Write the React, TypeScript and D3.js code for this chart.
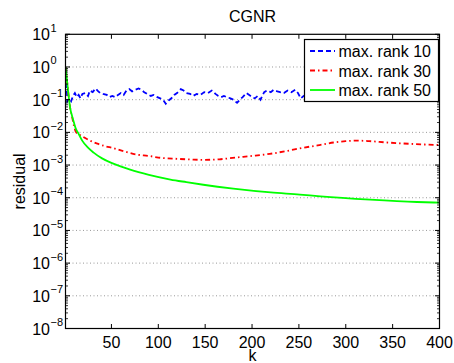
import React from "react";
import * as d3 from "d3";

const title = "CGNR";
const xLabel = "k";
const yLabel = "residual";
const xTicks = [50, 100, 150, 200, 250, 300, 350, 400];
const yDecades = [-8, -7, -6, -5, -4, -3, -2, -1, 0, 1];
const seriesNames = ["max. rank 10", "max. rank 30", "max. rank 50"];

const blueK = [1, 3, 5, 7, 9, 11, 13, 15, 17, 19, 22, 25, 27, 30, 33, 36, 38, 41, 45, 48, 51, 54, 57, 60, 63, 66, 69, 72, 75, 79, 82, 85, 88, 92, 95, 99, 102, 105, 108, 111, 114, 117, 120, 124, 127, 130, 134, 137, 141, 145, 149, 153, 157, 161, 164, 167, 170, 173, 177, 180, 184, 187, 190, 194, 197, 200, 203, 206, 209, 213, 216, 220, 223, 227, 230, 234, 238, 242, 246, 249, 252, 255, 260, 265, 270, 275, 280, 285, 290, 295, 300, 305, 310, 315, 320, 325, 330, 335, 340, 345, 350, 355, 360, 365, 370, 375, 380, 385, 390, 395, 400];
const blueV = [1, 0.09, 0.11, 0.09, 0.13, 0.16, 0.12, 0.14, 0.11, 0.15, 0.16, 0.13, 0.19, 0.17, 0.22, 0.18, 0.16, 0.15, 0.14, 0.12, 0.13, 0.12, 0.14, 0.16, 0.14, 0.19, 0.21, 0.18, 0.2, 0.22, 0.2, 0.17, 0.15, 0.13, 0.14, 0.12, 0.11, 0.1, 0.075, 0.095, 0.11, 0.14, 0.16, 0.21, 0.19, 0.16, 0.15, 0.13, 0.15, 0.14, 0.17, 0.16, 0.19, 0.15, 0.13, 0.12, 0.13, 0.12, 0.11, 0.1, 0.08, 0.1, 0.12, 0.16, 0.14, 0.12, 0.11, 0.13, 0.1, 0.17, 0.19, 0.17, 0.2, 0.18, 0.17, 0.16, 0.19, 0.17, 0.2, 0.16, 0.11, 0.13, 0.15, 0.18, 0.14, 0.16, 0.12, 0.15, 0.18, 0.14, 0.17, 0.13, 0.16, 0.19, 0.15, 0.13, 0.16, 0.18, 0.14, 0.12, 0.15, 0.17, 0.13, 0.16, 0.19, 0.15, 0.12, 0.14, 0.17, 0.15, 0.14];

const redK = [1, 2, 3, 4, 5, 6, 8, 10, 12, 16, 20, 27, 35, 43, 52, 64, 77, 90, 100, 120, 135, 148, 165, 183, 200, 219, 237, 255, 270, 287, 300, 312, 325, 344, 360, 380, 400];
const redV = [1, 0.55, 0.3, 0.16, 0.09, 0.055, 0.03, 0.016, 0.0105, 0.0085, 0.0072, 0.0056, 0.0045, 0.0038, 0.0033, 0.0026, 0.0021, 0.0019, 0.0017, 0.00155, 0.00148, 0.00144, 0.0015, 0.0017, 0.0019, 0.0022, 0.0027, 0.0034, 0.004, 0.0049, 0.0054, 0.0056, 0.0054, 0.0049, 0.0046, 0.0043, 0.0041];

const greenK = [1, 2, 3, 4, 5, 6, 8, 10, 12, 15, 19, 25, 31, 40, 52, 70, 90, 113, 130, 148, 180, 220, 251, 273, 326, 376, 400];
const greenV = [1, 0.55, 0.3, 0.16, 0.09, 0.055, 0.032, 0.02, 0.013, 0.009, 0.0055, 0.0034, 0.0024, 0.0016, 0.0011, 0.00072, 0.0005, 0.00036, 0.0003, 0.00025, 0.00019, 0.000145, 0.000125, 0.00011, 0.000087, 0.000074, 0.000071];

const W = 454, H = 363;
const L = 65.5, R = 439.5, T = 34.3, B = 328.5;
const FONT = "'Liberation Sans', Arial, sans-serif";

export default function App() {
  const x = d3.scaleLinear().domain([1, 400]).range([L, R]);
  const y = d3.scaleLog().domain([1e-8, 1e1]).range([B, T]);

  const mk = (ks: number[], vs: number[], curve: any) =>
    d3.line<number>().x((_, i) => x(ks[i])).y((v) => y(v)).curve(curve)(vs) || "";

  const bluePath = mk(blueK, blueV, d3.curveLinear);
  const redPath = mk(redK, redV, d3.curveMonotoneX);
  const greenPath = mk(greenK, greenV, d3.curveMonotoneX);

  const series = [
    { name: seriesNames[0], color: "#0000ff", dash: "5,3", path: bluePath },
    { name: seriesNames[1], color: "#ff0000", dash: "5,3,1.5,3", path: redPath },
    { name: seriesNames[2], color: "#00ff00", dash: "none", path: greenPath },
  ];

  const minor: number[] = [];
  for (let d = -8; d < 1; d++) for (let m = 2; m <= 9; m++) minor.push(m * Math.pow(10, d));

  const legX = 304.5, legY = 39.5, legW = 134, legH = 62;
  const rowY = [51, 70.5, 90];

  return (
    <svg width={W} height={H} style={{ position: "absolute", left: 0, top: 0, background: "#fff" }} fontFamily={FONT}>
      <rect x={0} y={0} width={W} height={H} fill="#fff" />
      {yDecades.filter((d) => d > -8 && d < 1).map((d) => (
        <line key={"g" + d} x1={L} x2={R} y1={y(Math.pow(10, d))} y2={y(Math.pow(10, d))} stroke="#999" strokeWidth={1} strokeDasharray="1,2.5" />
      ))}
      <defs>
        <clipPath id="plotclip"><rect x={L} y={T} width={R - L} height={B - T} /></clipPath>
      </defs>
      <g clipPath="url(#plotclip)">
        {series.map((s) => (
          <path key={s.name} d={s.path} fill="none" stroke={s.color} strokeWidth={1.8} strokeDasharray={s.dash} />
        ))}
      </g>
      <rect x={L} y={T} width={R - L} height={B - T} fill="none" stroke="#000" strokeWidth={1.2} />
      {xTicks.map((t) => (
        <g key={"xt" + t}>
          <line x1={x(t)} x2={x(t)} y1={B} y2={B - 4.5} stroke="#000" />
          <line x1={x(t)} x2={x(t)} y1={T} y2={T + 4.5} stroke="#000" />
          <text x={x(t)} y={348} fontSize={16} textAnchor="middle">{t}</text>
        </g>
      ))}
      {yDecades.map((d) => {
        const yy = y(Math.pow(10, d));
        return (
          <g key={"yt" + d}>
            <line x1={L} x2={L + 4.5} y1={yy} y2={yy} stroke="#000" />
            <line x1={R} x2={R - 4.5} y1={yy} y2={yy} stroke="#000" />
            <text x={50} y={yy + 6} fontSize={16} textAnchor="end">10</text>
            <text x={50.5} y={yy - 2.5} fontSize={11}>{d < 0 ? "\u2212" + Math.abs(d) : String(d)}</text>
          </g>
        );
      })}
      {minor.map((v, i) => (
        <g key={"mn" + i}>
          <line x1={L} x2={L + 2.5} y1={y(v)} y2={y(v)} stroke="#000" strokeWidth={0.8} />
          <line x1={R} x2={R - 2.5} y1={y(v)} y2={y(v)} stroke="#000" strokeWidth={0.8} />
        </g>
      ))}
      <text x={(L + R) / 2} y={21.7} fontSize={16} textAnchor="middle">{title}</text>
      <text x={(L + R) / 2} y={361} fontSize={16} textAnchor="middle">{xLabel}</text>
      <text transform={`translate(25,${(T + B) / 2}) rotate(-90)`} fontSize={16} textAnchor="middle">{yLabel}</text>
      <rect x={legX} y={legY} width={legW} height={legH} fill="#fff" stroke="#000" strokeWidth={1.2} />
      {series.map((s, i) => (
        <g key={"lg" + i}>
          <line x1={310} x2={335} y1={rowY[i]} y2={rowY[i]} stroke={s.color} strokeWidth={1.8} strokeDasharray={s.dash} />
          <text x={338.5} y={rowY[i] + 6} fontSize={16}>{s.name}</text>
        </g>
      ))}
    </svg>
  );
}
